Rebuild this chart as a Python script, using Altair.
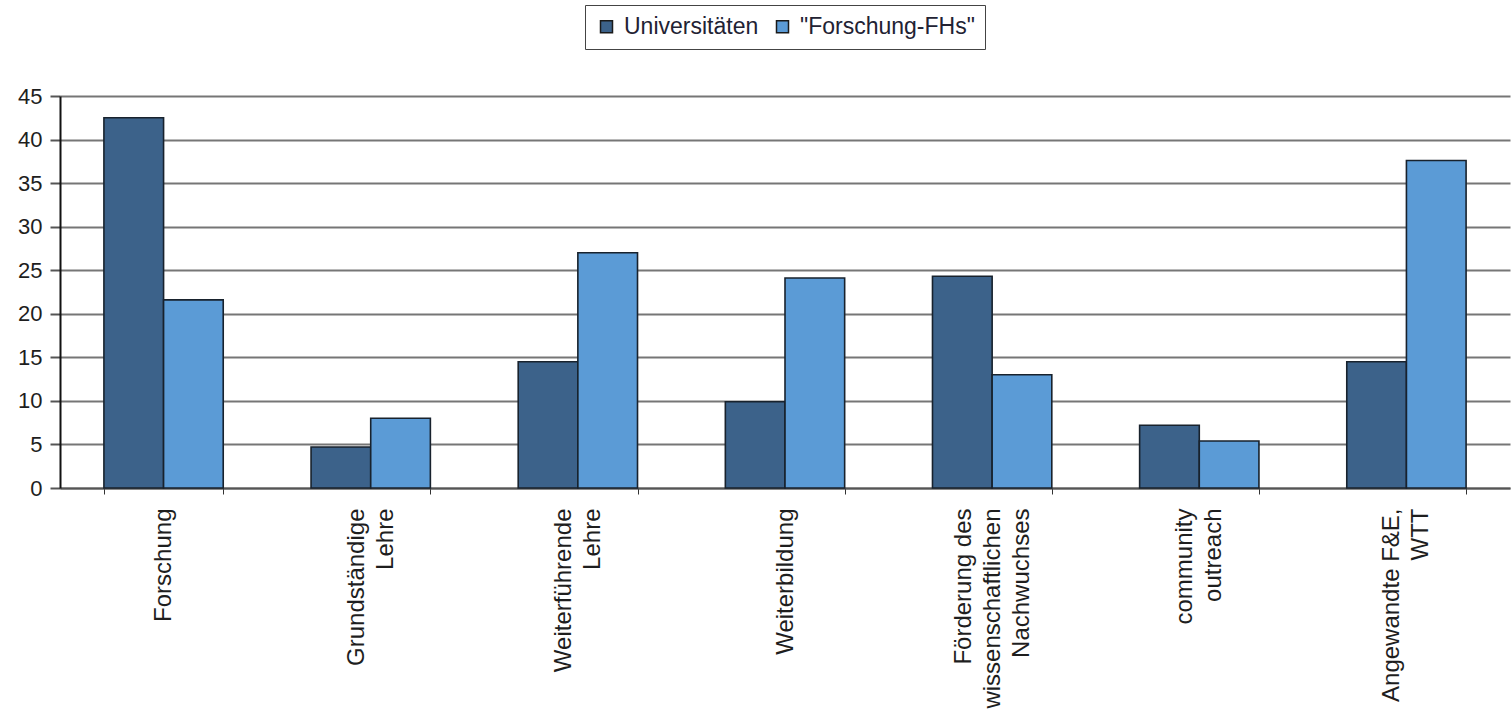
import altair as alt
import pandas as pd

# Bereiche (x axis), "|" marks a line break in the axis label
categories = [
    "Forschung",
    "Grundständige|Lehre",
    "Weiterführende|Lehre",
    "Weiterbildung",
    "Förderung des|wissenschaftlichen|Nachwuchses",
    "community|outreach",
    "Angewandte F&E,|WTT",
]
series = ["Universitäten", '"Forschung-FHs"']
universitaeten = [42.5, 4.7, 14.5, 9.9, 24.3, 7.2, 14.5]
forschung_fhs = [21.6, 8.0, 27.0, 24.1, 13.0, 5.4, 37.6]
y_ticks = [0, 5, 10, 15, 20, 25, 30, 35, 40, 45]
colors = ["#3c628a", "#5b9bd6"]

rows = []
for cat, u, f in zip(categories, universitaeten, forschung_fhs):
    rows.append({"Bereich": cat, "Gruppe": series[0], "Wert": u})
    rows.append({"Bereich": cat, "Gruppe": series[1], "Wert": f})
df = pd.DataFrame(rows)

font = "Liberation Sans"
line_height = 29

# shift multi-line labels so the block of lines is centred on its category
label_shift = {
    "condition": [
        {"test": "length(split(datum.value, '|')) == 3", "value": -line_height},
        {"test": "length(split(datum.value, '|')) == 2", "value": -line_height / 2},
    ],
    "value": 0,
}

chart = (
    alt.Chart(df)
    .mark_bar(stroke="#18222d", strokeWidth=1.6)
    .encode(
        x=alt.X(
            "Bereich:N",
            sort=categories,
            title=None,
            scale=alt.Scale(paddingInner=0.424, paddingOuter=0.212),
            axis=alt.Axis(
                labelAngle=-90,
                labelAlign="right",
                labelBaseline="middle",
                labelExpr="split(datum.label, '|')",
                labelLineHeight=line_height,
                labelOffset=label_shift,
                labelPadding=14,
                labelLimit=400,
                labelFontSize=24,
                labelColor="#1e1e1e",
                tickSize=6,
                tickBand="extent",
                tickColor="#333333",
                domainColor="#555555",
                domainWidth=2,
                grid=False,
            ),
        ),
        xOffset=alt.XOffset("Gruppe:N", sort=series),
        y=alt.Y(
            "Wert:Q",
            title=None,
            scale=alt.Scale(domain=[0, 45], nice=False),
            axis=alt.Axis(
                values=y_ticks,
                tickSize=10,
                tickColor="#555555",
                tickWidth=2,
                labelPadding=8,
                labelFontSize=22,
                labelColor="#1e1e1e",
                grid=True,
                gridColor="#767676",
                gridWidth=2,
                domainColor="#111111",
                domainWidth=2,
            ),
        ),
        color=alt.Color(
            "Gruppe:N",
            sort=series,
            scale=alt.Scale(domain=series, range=colors),
            legend=alt.Legend(
                title=None,
                orient="none",
                direction="horizontal",
                legendX=525,
                legendY=-91,
                symbolType="square",
                symbolSize=144,
                symbolStrokeColor="#1a1a1a",
                symbolStrokeWidth=1.5,
                labelFontSize=23,
                labelColor="#222233",
                labelLimit=400,
                labelOffset=6,
                columnPadding=12,
                padding=10,
                strokeColor="#444444",
                cornerRadius=0,
            ),
        ),
    )
    .properties(
        width=1450,
        height=392,
        autosize=alt.AutoSizeParams(type="none"),
        padding={"left": 60, "top": 96, "right": 1, "bottom": 226},
    )
    .configure_view(stroke=None)
    .configure_axis(labelFont=font)
    .configure_legend(labelFont=font)
)

chart.save("out.html", embed_options={"renderer": "svg", "actions": False})
